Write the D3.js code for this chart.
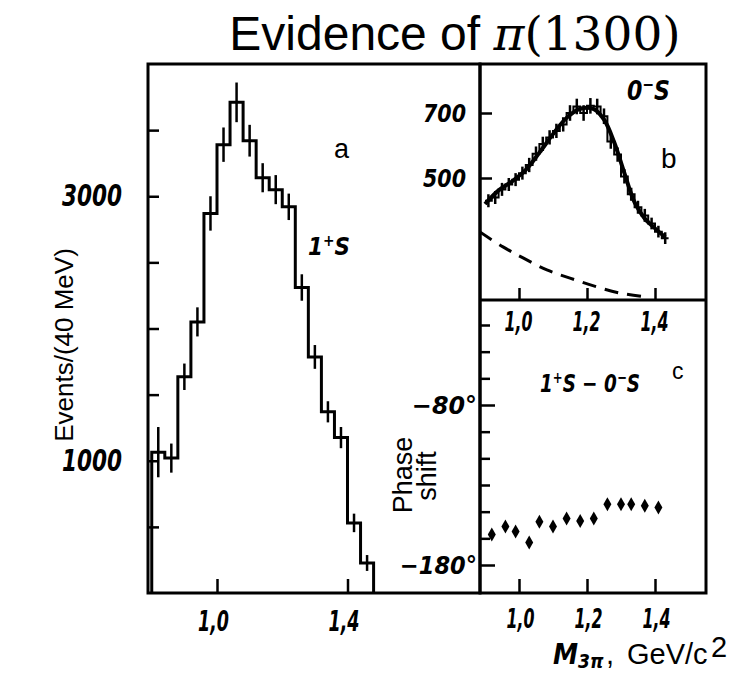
<!DOCTYPE html>
<html>
<head>
<meta charset="utf-8">
<script src="https://cdn.jsdelivr.net/npm/d3@7"></script>
<style>
  body { margin: 0; background: #fff; }
  .scan {
    font-family: "Liberation Sans Narrow", "DejaVu Sans Condensed", "DejaVu Sans", sans-serif;
    font-weight: bold;
    font-style: italic;
    fill: #000;
  }
  .plain { font-family: "Liberation Sans", Arial, sans-serif; fill: #000; }
</style>
</head>
<body>
<svg id="chart" width="733" height="678"></svg>
<script>
// Panel a: 1+S wave, 40 MeV bins (left edges in GeV)
const binsA = [0.80, 0.84, 0.88, 0.92, 0.96, 1.00, 1.04, 1.08, 1.12, 1.16, 1.20, 1.24, 1.28, 1.32, 1.36, 1.40, 1.44];
const countsA = [1065, 1020, 1635, 2050, 2870, 3390, 3710, 3420, 3140, 3050, 2920, 2310, 1785, 1370, 1175, 530, 227];
const errorsA = [190, 110, 100, 110, 130, 130, 150, 120, 110, 110, 100, 100, 90, 80, 80, 70, 60];
const binWidthA = 0.04;

// Panel b: 0-S wave, 20 MeV bins
const binsB = [0.90, 0.92, 0.94, 0.96, 0.98, 1.00, 1.02, 1.04, 1.06, 1.08, 1.10, 1.12, 1.14, 1.16,
  1.18, 1.20, 1.22, 1.24, 1.26, 1.28, 1.30, 1.32, 1.34, 1.36, 1.38, 1.40, 1.42];
const countsB = [430, 440, 465, 480, 495, 515, 540, 575, 605, 625, 645, 665, 700, 720,
  700, 722, 720, 690, 612, 572, 505, 450, 410, 385, 360, 335, 315];
const errorsB = [20, 20, 20, 20, 20, 20, 22, 22, 22, 22, 22, 22, 24, 24,
  24, 24, 24, 24, 22, 22, 22, 20, 20, 20, 18, 18, 18];
const binWidthB = 0.02;

// Panel b: resonance fit and background (dashed)
const fitMassB = [0.90, 0.94, 0.98, 1.02, 1.06, 1.10, 1.14, 1.18, 1.22, 1.25, 1.28, 1.31, 1.34, 1.37, 1.40, 1.43];
const fitValB = [420, 462, 490, 525, 578, 635, 685, 713, 712, 680, 610, 515, 425, 375, 345, 318];
const bgMassB = [0.885, 0.953, 1.012, 1.082, 1.15, 1.229, 1.297, 1.376];
const bgValB = [334, 288, 254, 217, 192, 165, 146, 134];

// Panel c: relative phase 1+S - 0-S (degrees)
const massC = [0.92, 0.96, 0.99, 1.03, 1.06, 1.10, 1.14, 1.18, 1.22, 1.26, 1.30, 1.33, 1.37, 1.41];
const phaseC = [-161, -156, -159, -166, -153, -156, -151, -152.5, -151, -142, -142, -142, -143, -144];

// Tick values
const xTicksA = [1.0, 1.4];
const yTicksA = [500, 1000, 1500, 2000, 2500, 3000, 3500];
const yLabelsA = [1000, 3000];
const xTicksBC = [1.0, 1.2, 1.4];
const yTicksB = [500, 700];
const yLabelsC = [-80, -180];

const svg = d3.select("#chart");

// Frame geometry
const fLeft = 148, fMid = 480, fRight = 706, fTop = 64, fBottom = 593, fSplit = 300;

// Scales
const xA = d3.scaleLinear().domain([1.0, 1.4]).range([217, 347.5]);
const yA = d3.scaleLinear().domain([0, 4000]).range([fBottom, fTop]);
const xBC = d3.scaleLinear().domain([1.0, 1.4]).range([519, 655]);
const yB = d3.scaleLinear().domain([500, 700]).range([178, 113]);
const yC = d3.scaleLinear().domain([-180, -80]).range([565, 405]);

const comma = d => d3.format(".1f")(d).replace(".", ",");

// Clip paths for each panel
const defs = svg.append("defs");
defs.append("clipPath").attr("id", "clipA").append("rect")
  .attr("x", fLeft).attr("y", fTop).attr("width", fMid - fLeft).attr("height", fBottom - fTop);
defs.append("clipPath").attr("id", "clipB").append("rect")
  .attr("x", fMid).attr("y", fTop).attr("width", fRight - fMid).attr("height", fSplit - fTop);

// Title
const title = svg.append("text").attr("x", 455).attr("y", 50).attr("text-anchor", "middle");
title.append("tspan").attr("class", "plain").style("font-size", "48px").text("Evidence of ");
title.append("tspan").style("font-family", "DejaVu Serif, serif").style("font-style", "italic")
  .style("font-size", "47px").text("π");
title.append("tspan").style("font-family", "DejaVu Serif, serif")
  .style("font-size", "47px").text("(1300)");

// Step outline of a histogram
function stepPoints(bins, counts, width, y) {
  const pts = [[bins[0], y.domain()[0]]];
  bins.forEach((b, i) => {
    pts.push([b, counts[i]]);
    pts.push([b + width, counts[i]]);
  });
  pts.push([bins[bins.length - 1] + width, y.domain()[0]]);
  return pts;
}

// Tick marks only (no labels, no domain)
function tickMarks(g, axis, width) {
  g.call(axis.tickFormat(""));
  g.select(".domain").remove();
  g.selectAll("line").attr("stroke", "#000").attr("stroke-width", width || 2.5);
}

// Labels only, squeezed to the narrow scanned type
function tickLabels(g, axis, size, len, dx) {
  g.call(axis.tickSize(0));
  g.select(".domain").remove();
  g.attr("font-family", null).attr("font-size", null);
  g.selectAll("text").attr("class", "scan").style("font-size", size + "px")
    .attr("textLength", len).attr("lengthAdjust", "spacingAndGlyphs")
    .attr("dx", dx || 0);
}

// ---------- Panel a ----------
const pa = svg.append("g").attr("clip-path", "url(#clipA)");

pa.append("path")
  .datum(stepPoints(binsA, countsA, binWidthA, yA))
  .attr("fill", "none").attr("stroke", "#000").attr("stroke-width", 3)
  .attr("d", d3.line().x(d => xA(d[0])).y(d => yA(d[1])));

pa.selectAll("line.err")
  .data(binsA)
  .join("line")
  .attr("class", "err")
  .attr("x1", d => xA(d + binWidthA / 2)).attr("x2", d => xA(d + binWidthA / 2))
  .attr("y1", (d, i) => yA(countsA[i] - errorsA[i]))
  .attr("y2", (d, i) => yA(countsA[i] + errorsA[i]))
  .attr("stroke", "#000").attr("stroke-width", 2.5);

svg.append("g").attr("transform", `translate(${fLeft},0)`)
  .call(g => tickMarks(g, d3.axisRight(yA).tickValues(yTicksA).tickSize(11)));
svg.append("g").attr("transform", `translate(${fLeft},0)`)
  .call(g => tickLabels(g, d3.axisLeft(yA).tickValues(yLabelsA).tickFormat(d3.format("d")).tickPadding(26), 30, 60));

svg.append("g").attr("transform", `translate(0,${fBottom})`)
  .call(g => tickMarks(g, d3.axisBottom(xA).tickValues(xTicksA).tickSize(-14)));
svg.append("g").attr("transform", `translate(0,${fBottom})`)
  .call(g => tickLabels(g, d3.axisBottom(xA).tickValues(xTicksA).tickFormat(comma).tickPadding(18), 28, 31, -4));

// ---------- Panel b ----------
const pb = svg.append("g").attr("clip-path", "url(#clipB)");

pb.append("path")
  .datum(bgMassB.map((m, i) => [m, bgValB[i]]))
  .attr("fill", "none").attr("stroke", "#000").attr("stroke-width", 3)
  .attr("stroke-dasharray", "14,9")
  .attr("d", d3.line().curve(d3.curveCatmullRom).x(d => xBC(d[0])).y(d => yB(d[1])));

pb.append("path")
  .datum(stepPoints(binsB, countsB, binWidthB, yB).slice(1, -1))
  .attr("fill", "none").attr("stroke", "#000").attr("stroke-width", 2)
  .attr("d", d3.line().x(d => xBC(d[0])).y(d => yB(d[1])));

pb.selectAll("line.err")
  .data(binsB)
  .join("line")
  .attr("class", "err")
  .attr("x1", d => xBC(d + binWidthB / 2)).attr("x2", d => xBC(d + binWidthB / 2))
  .attr("y1", (d, i) => yB(countsB[i] - errorsB[i]))
  .attr("y2", (d, i) => yB(countsB[i] + errorsB[i]))
  .attr("stroke", "#000").attr("stroke-width", 2.5);

pb.append("path")
  .datum(fitMassB.map((m, i) => [m, fitValB[i]]))
  .attr("fill", "none").attr("stroke", "#000").attr("stroke-width", 4)
  .attr("d", d3.line().curve(d3.curveCatmullRom).x(d => xBC(d[0])).y(d => yB(d[1])));

svg.append("g").attr("transform", `translate(${fMid},0)`)
  .call(g => tickMarks(g, d3.axisRight(yB).tickValues(yTicksB).tickSize(12)));
svg.append("g").attr("transform", `translate(${fMid},0)`)
  .call(g => tickLabels(g, d3.axisLeft(yB).tickValues(yTicksB).tickFormat(d3.format("d")).tickPadding(14), 25, 43));

svg.append("g").attr("transform", `translate(0,${fSplit})`)
  .call(g => tickMarks(g, d3.axisBottom(xBC).tickValues(xTicksBC).tickSize(-12)));
svg.append("g").attr("transform", `translate(0,${fSplit})`)
  .call(g => tickLabels(g, d3.axisBottom(xBC).tickValues(xTicksBC).tickFormat(comma).tickPadding(12), 27, 28, -1));

// ---------- Panel c ----------
const diamond = "M0,-7L4,0L0,7L-4,0Z";
svg.append("g").selectAll("path.pt")
  .data(massC)
  .join("path")
  .attr("class", "pt")
  .attr("transform", (d, i) => `translate(${xBC(d)},${yC(phaseC[i])})`)
  .attr("d", diamond)
  .attr("fill", "#000");

// minor phase ticks every 1/6 of 100 degrees
const phaseTicks = d3.range(0, 10).map(k => -180 + k * 100 / 6);
svg.append("g").attr("transform", `translate(${fMid},0)`)
  .call(g => tickMarks(g, d3.axisRight(yC).tickValues(phaseTicks.filter(d => !yLabelsC.includes(Math.round(d)))).tickSize(10)));
svg.append("g").attr("transform", `translate(${fMid},0)`)
  .call(g => tickMarks(g, d3.axisRight(yC).tickValues(yLabelsC).tickSize(15)));
svg.append("g").attr("transform", `translate(${fMid},0)`)
  .call(g => tickLabels(g, d3.axisLeft(yC).tickValues(yLabelsC).tickFormat(d => "−" + Math.abs(d) + "°").tickPadding(3),
    25, d => (d === -80 ? 65 : 77)));

svg.append("g").attr("transform", `translate(0,${fBottom})`)
  .call(g => tickMarks(g, d3.axisBottom(xBC).tickValues(xTicksBC).tickSize(-14)));
svg.append("g").attr("transform", `translate(0,${fBottom})`)
  .call(g => tickLabels(g, d3.axisBottom(xBC).tickValues(xTicksBC).tickFormat(comma).tickPadding(17), 26, 28, 1));

// ---------- Frames ----------
svg.append("rect").attr("x", fLeft).attr("y", fTop).attr("width", fMid - fLeft).attr("height", fBottom - fTop)
  .attr("fill", "none").attr("stroke", "#000").attr("stroke-width", 3);
svg.append("rect").attr("x", fMid).attr("y", fTop).attr("width", fRight - fMid).attr("height", fBottom - fTop)
  .attr("fill", "none").attr("stroke", "#000").attr("stroke-width", 3);
svg.append("line").attr("x1", fMid).attr("x2", fRight).attr("y1", fSplit).attr("y2", fSplit)
  .attr("stroke", "#000").attr("stroke-width", 3);

// ---------- Annotations ----------
svg.append("text").attr("class", "plain").attr("x", 334).attr("y", 158).style("font-size", "27px").text("a");
svg.append("text").attr("class", "plain").attr("x", 661).attr("y", 168).style("font-size", "28px").text("b");
svg.append("text").attr("class", "plain").attr("x", 672).attr("y", 379).style("font-size", "23px").text("c");

// Wave labels with raised signs; squeezed horizontally to the wanted width
function waveLabel(x, y, size, len, parts) {
  const g = svg.append("g");
  const t = g.append("text").attr("class", "scan").style("font-size", size + "px");
  parts.forEach(p => {
    t.append("tspan").attr("dy", p.dy || 0).style("font-size", (p.size || size) + "px").text(p.t);
  });
  const w = t.node().getComputedTextLength();
  g.attr("transform", `translate(${x},${y}) scale(${len / w},1)`);
}
waveLabel(308, 255, 25, 42, [{ t: "1" }, { t: "+", dy: -9, size: 16 }, { t: "S", dy: 9 }]);
waveLabel(627, 100, 27, 43, [{ t: "0" }, { t: "−", dy: -10, size: 17 }, { t: "S", dy: 10 }]);
waveLabel(540, 392, 25, 100, [{ t: "1" }, { t: "+", dy: -9, size: 16 }, { t: "S − 0", dy: 9 },
  { t: "−", dy: -9, size: 16 }, { t: "S", dy: 9 }]);

// Axis titles
svg.append("text").attr("class", "plain")
  .attr("transform", "translate(73,345) rotate(-90)")
  .attr("text-anchor", "middle").style("font-size", "26px").text("Events/(40 MeV)");
svg.append("text").attr("class", "plain")
  .attr("transform", "translate(412,475) rotate(-90)")
  .attr("text-anchor", "middle").style("font-size", "27px").text("Phase");
svg.append("text").attr("class", "plain")
  .attr("transform", "translate(436,476) rotate(-90)")
  .attr("text-anchor", "middle").style("font-size", "27px").text("shift");

const xl = svg.append("text").attr("class", "scan").attr("x", 553).attr("y", 664).style("font-size", "28px");
xl.append("tspan").text("M");
xl.append("tspan").attr("dy", 4).style("font-size", "19px").text("3π");
svg.append("text").attr("class", "plain").attr("x", 606).attr("y", 664).style("font-size", "29px").text(",");
svg.append("text").attr("class", "plain").attr("x", 627).attr("y", 664).style("font-size", "29px").text("GeV/c");
svg.append("text").attr("class", "plain").attr("x", 711).attr("y", 657).style("font-size", "29px").text("2");
</script>
</body>
</html>
